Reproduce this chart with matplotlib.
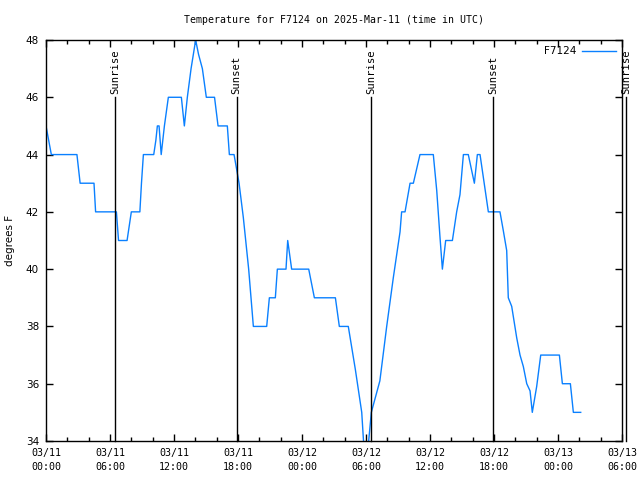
import matplotlib
matplotlib.use('Agg')
import matplotlib.pyplot as plt
from matplotlib.ticker import MultipleLocator
import matplotlib.transforms as mtransforms

# hours since 2025-03-11 00:00 UTC
hours = [0.0, 0.25, 0.5, 2.9, 3.2, 4.5, 4.65, 6.6, 6.8, 7.6, 7.8, 8.0, 8.8, 8.95,
         9.13, 10.1, 10.3, 10.44, 10.6, 10.8, 11.1, 11.47, 12.69, 12.97, 13.25,
         13.6, 14.03, 14.3, 14.66, 15.03, 15.8, 16.13, 17.0, 17.19, 17.63, 18.1,
         18.5, 19.0, 19.44, 20.69, 20.94, 21.5, 21.69, 22.5, 22.66, 23.03, 24.63,
         25.16, 27.13, 27.5, 28.34, 29.0, 29.6, 29.8, 30.2, 30.5, 31.3, 31.94,
         32.56, 33.19, 33.34, 33.66, 34.13, 34.44, 35.06, 36.31, 36.63, 36.94,
         37.16, 37.47, 38.1, 38.5, 38.81, 39.13, 39.59, 40.16, 40.44, 40.69,
         41.47, 42.56, 42.87, 43.19, 43.34, 43.66, 44.13, 44.44, 44.75, 45.07,
         45.38, 45.59, 46.0, 46.38, 48.13, 48.41, 49.16, 49.44, 50.13]
temps = [45.0, 44.5, 44.0, 44.0, 43.0, 43.0, 42.0, 42.0, 41.0, 41.0, 41.5, 42.0, 42.0, 43.0,
         44.0, 44.0, 44.5, 45.0, 45.0, 44.0, 45.0, 46.0, 46.0, 45.0, 46.0,
         47.0, 48.0, 47.5, 47.0, 46.0, 46.0, 45.0, 45.0, 44.0, 44.0, 43.0,
         41.8, 40.0, 38.0, 38.0, 39.0, 39.0, 40.0, 40.0, 41.0, 40.0, 40.0,
         39.0, 39.0, 38.0, 38.0, 36.5, 35.0, 33.8, 33.8, 35.0, 36.1, 38.0,
         39.7, 41.3, 42.0, 42.0, 43.0, 43.0, 44.0, 44.0, 42.75, 41.1,
         40.0, 41.0, 41.0, 42.0, 42.6, 44.0, 44.0, 43.0, 44.0, 44.0,
         42.0, 42.0, 41.35, 40.65, 39.0, 38.7, 37.6, 37.0, 36.6, 36.0,
         35.75, 35.0, 35.9, 37.0, 37.0, 36.0, 36.0, 35.0, 35.0]

sun_times = [6.47, 17.88, 30.5, 41.94, 54.37]
sun_names = ['Sunrise', 'Sunset', 'Sunrise', 'Sunset', 'Sunrise']

xtick_pos = [0, 6, 12, 18, 24, 30, 36, 42, 48, 54]
xtick_lab = ['03/11\n00:00', '03/11\n06:00', '03/11\n12:00', '03/11\n18:00',
             '03/12\n00:00', '03/12\n06:00', '03/12\n12:00', '03/12\n18:00',
             '03/13\n00:00', '03/13\n06:00']
ytick_pos = [34, 36, 38, 40, 42, 44, 46, 48]

mono = 'DejaVu Sans Mono'

fig = plt.figure(figsize=(6.4, 4.8), dpi=100)
ax = fig.add_axes([46/640, 1-441/480, 576/640, 401/480])

ax.plot(hours, temps, color='#0a80ff', lw=1.0, label='F7124')

ax.set_xlim(0, 54)
ax.set_ylim(34, 48)

trans = mtransforms.blended_transform_factory(ax.transData, ax.transAxes)
for t, name in zip(sun_times, sun_names):
    ax.plot([t, t], [0, 0.857], color='black', lw=1.0, transform=trans, clip_on=False)
    ax.text(t, 0.865, name, rotation=90, ha='center', va='bottom', transform=trans,
            fontsize=7.6, family=mono, clip_on=False)

ax.set_xticks(xtick_pos)
ax.set_xticklabels(xtick_lab, family=mono, fontsize=7.2, linespacing=1.55)
ax.xaxis.set_minor_locator(MultipleLocator(2))
ax.set_yticks(ytick_pos)
ax.set_yticklabels([str(v) for v in ytick_pos], fontsize=7.5)
ax.tick_params(which='both', direction='in', top=True, right=True, width=1, color='black')
ax.tick_params(which='major', length=5, pad=5)
ax.tick_params(which='minor', length=3)
for s in ax.spines.values():
    s.set_linewidth(1.0)

ax.set_ylabel('degrees F', fontsize=7.5, labelpad=8)
ax.set_title('Temperature for F7124 on 2025-Mar-11 (time in UTC)', family=mono, fontsize=7.1, pad=12)

leg = ax.legend(loc='upper right', frameon=False, markerfirst=False, fontsize=7.5,
                handlelength=3.2, borderaxespad=0.2, handletextpad=0.6)

fig.savefig('out.png', dpi=100)
